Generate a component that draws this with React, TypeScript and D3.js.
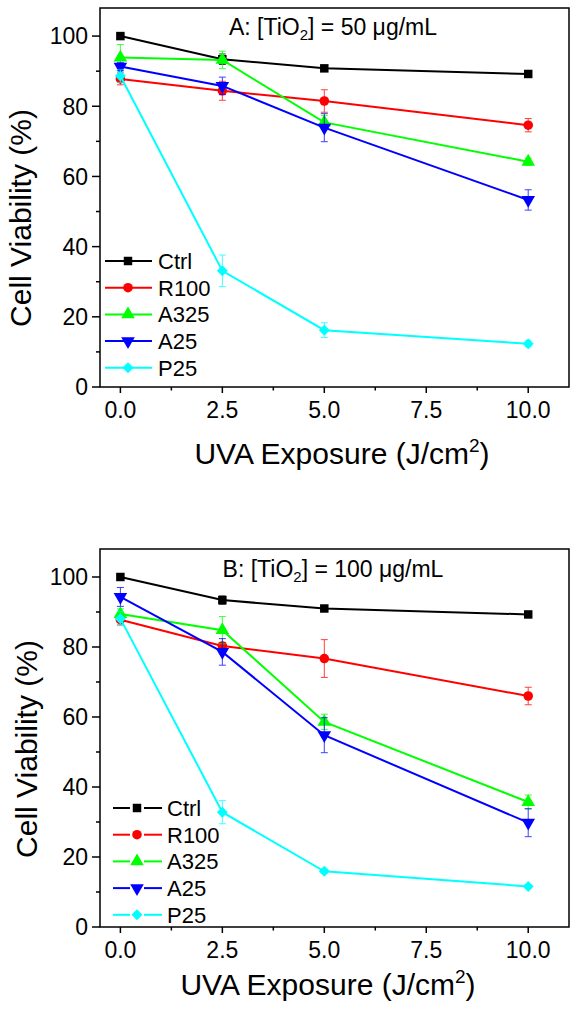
import React from "react";
import * as d3 from "d3";

// ---- data ----
const exposures = [0, 2.5, 5, 10];
const seriesNames = ["Ctrl", "R100", "A325", "A25", "P25"];
const seriesColors = ["#000000", "#ff0000", "#00ff00", "#0000ff", "#00ffff"];
const yTicks = [0, 20, 40, 60, 80, 100];
const yMinorTicks = [10, 30, 50, 70, 90];
const xTicks = [0, 2.5, 5, 7.5, 10];
const xMinorTicks = [1.25, 3.75, 6.25, 8.75];

// Panel A: [TiO2] = 50 ug/mL
const aCtrl = [100, 93.4, 90.8, 89.2];
const aCtrlErr = [0.5, 1.5, 0.5, 0.5];
const aR100 = [87.8, 84.4, 81.5, 74.6];
const aR100Err = [1.7, 2.7, 3.2, 1.9];
const aA325 = [93.9, 93.2, 75.4, 64.2];
const aA325Err = [3.7, 2.5, 2.0, 1.0];
const aA25 = [91.3, 85.8, 73.9, 53.3];
const aA25Err = [1.2, 2.5, 4.0, 2.9];
const aP25 = [88.6, 33.1, 16.2, 12.3];
const aP25Err = [1.8, 4.5, 2.1, 0.8];

// Panel B: [TiO2] = 100 ug/mL
const bCtrl = [100, 93.4, 91.0, 89.3];
const bCtrlErr = [0.5, 1.2, 0.5, 0.5];
const bR100 = [87.8, 80.3, 76.7, 66.0];
const bR100Err = [1.5, 1.0, 5.4, 2.5];
const bA325 = [89.4, 84.8, 58.6, 35.7];
const bA325Err = [1.5, 3.9, 2.2, 2.0];
const bA25 = [94.3, 78.6, 54.8, 29.8];
const bA25Err = [2.7, 3.8, 5.0, 4.0];
const bP25 = [88.1, 32.8, 15.9, 11.6];
const bP25Err = [2.0, 3.3, 0.6, 0.5];

const FONT = "Arial, 'Liberation Sans', Helvetica, sans-serif";

const panels = [
  {
    label: "A",
    conc: "50",
    top: 8,
    bottom: 387,
    values: [aCtrl, aR100, aA325, aA25, aP25],
    errors: [aCtrlErr, aR100Err, aA325Err, aA25Err, aP25Err],
    titleX: 333,
    titleY: 35,
    yTitleX: 31,
    yTitleY: 218,
    xTitleX: 342,
    xTitleY: 464,
    legendStyle: "solid",
    legendLine: [105, 152],
    legendMarker: 128,
    legendText: 158,
    legendTop: 261,
  },
  {
    label: "B",
    conc: "100",
    top: 549,
    bottom: 927,
    values: [bCtrl, bR100, bA325, bA25, bP25],
    errors: [bCtrlErr, bR100Err, bA325Err, bA25Err, bP25Err],
    titleX: 333,
    titleY: 577,
    yTitleX: 37,
    yTitleY: 749,
    xTitleX: 328,
    xTitleY: 995,
    legendStyle: "gap",
    legendLine: [113, 162],
    legendMarker: 137,
    legendText: 167,
    legendTop: 808,
  },
];

function markerPath(i: number): { d: string; rot: number } {
  const sq = d3.symbol().type(d3.symbolSquare);
  if (i === 0) return { d: sq.size(72)() as string, rot: 0 };
  if (i === 1) return { d: d3.symbol().type(d3.symbolCircle).size(72)() as string, rot: 0 };
  if (i === 2) return { d: d3.symbol().type(d3.symbolTriangle).size(80)() as string, rot: 0 };
  if (i === 3) return { d: d3.symbol().type(d3.symbolTriangle).size(80)() as string, rot: 180 };
  return { d: sq.size(60)() as string, rot: 45 };
}

function Marker({ i, cx, cy, color }: { i: number; cx: number; cy: number; color: string }) {
  const m = markerPath(i);
  return (
    <path
      d={m.d}
      transform={`translate(${cx},${cy}) rotate(${m.rot})`}
      fill={color}
      stroke="none"
    />
  );
}

function Panel({ p }: { p: any }) {
  const x = d3.scaleLinear().domain([-0.5, 11]).range([100, 569]);
  const y = d3.scaleLinear().domain([0, 108]).range([p.bottom, p.top]);
  const line = d3
    .line<number>()
    .x((_, k) => x(exposures[k]))
    .y((v) => y(v));
  const legendGap = 26.7;

  return (
    <g>
      {p.values.map((vals: number[], i: number) => {
        const color = seriesColors[i];
        const errs = p.errors[i];
        return (
          <g key={seriesNames[i]}>
            {vals.map((v, k) => {
              const cx = x(exposures[k]);
              const y1 = y(v - errs[k]);
              const y2 = y(v + errs[k]);
              return (
                <g key={k} stroke={color} strokeWidth={1} opacity={0.75}>
                  <line x1={cx} x2={cx} y1={y1} y2={y2} />
                  <line x1={cx - 3.5} x2={cx + 3.5} y1={y1} y2={y1} />
                  <line x1={cx - 3.5} x2={cx + 3.5} y1={y2} y2={y2} />
                </g>
              );
            })}
            <path d={line(vals) as string} fill="none" stroke={color} strokeWidth={2} />
            {vals.map((v, k) => (
              <Marker key={k} i={i} cx={x(exposures[k])} cy={y(v)} color={color} />
            ))}
          </g>
        );
      })}

      <rect
        x={x(-0.5)}
        y={p.top}
        width={x(11) - x(-0.5)}
        height={p.bottom - p.top}
        fill="none"
        stroke="#000"
        strokeWidth={1.5}
      />

      {yTicks.map((t) => (
        <g key={"y" + t}>
          <line x1={92} x2={100} y1={y(t)} y2={y(t)} stroke="#000" strokeWidth={1.5} />
          <text
            x={88}
            y={y(t)}
            dy="0.36em"
            textAnchor="end"
            fontSize={23}
            fontFamily={FONT}
            fill="#000"
          >
            {t}
          </text>
        </g>
      ))}
      {yMinorTicks.map((t) => (
        <line key={"ym" + t} x1={96} x2={100} y1={y(t)} y2={y(t)} stroke="#000" strokeWidth={1.5} />
      ))}

      {xTicks.map((t) => (
        <g key={"x" + t}>
          <line x1={x(t)} x2={x(t)} y1={p.bottom} y2={p.bottom + 6} stroke="#000" strokeWidth={1.5} />
          <text
            x={x(t)}
            y={p.bottom + 31}
            textAnchor="middle"
            fontSize={23}
            fontFamily={FONT}
            fill="#000"
          >
            {t.toFixed(1)}
          </text>
        </g>
      ))}
      {xMinorTicks.map((t) => (
        <line key={"xm" + t} x1={x(t)} x2={x(t)} y1={p.bottom} y2={p.bottom + 3.5} stroke="#000" strokeWidth={1.5} />
      ))}

      <text x={p.titleX} y={p.titleY} textAnchor="middle" fontSize={23} fontFamily={FONT} fill="#000">
        {p.label}: [TiO
        <tspan dy={5} fontSize={15}>2</tspan>
        <tspan dy={-5}>] = {p.conc} μg/mL</tspan>
      </text>

      <text
        transform={`translate(${p.yTitleX},${p.yTitleY}) rotate(-90)`}
        textAnchor="middle"
        fontSize={30}
        fontFamily={FONT}
        fill="#000"
      >
        Cell Viability (%)
      </text>
      <text x={p.xTitleX} y={p.xTitleY} textAnchor="middle" fontSize={30} fontFamily={FONT} fill="#000">
        UVA Exposure (J/cm
        <tspan dy={-12} fontSize={19}>2</tspan>
        <tspan dy={12}>)</tspan>
      </text>

      {seriesNames.map((name, i) => {
        const ly = p.legendTop + i * legendGap;
        const color = seriesColors[i];
        const [l0, l1] = p.legendLine;
        return (
          <g key={"lg" + name}>
            {p.legendStyle === "solid" ? (
              <line x1={l0} x2={l1} y1={ly} y2={ly} stroke={color} strokeWidth={2} />
            ) : (
              <g stroke={color} strokeWidth={2}>
                <line x1={l0} x2={p.legendMarker - 7} y1={ly} y2={ly} />
                <line x1={p.legendMarker + 7} x2={l1} y1={ly} y2={ly} />
              </g>
            )}
            <Marker i={i} cx={p.legendMarker} cy={ly} color={color} />
            <text x={p.legendText} y={ly} dy="0.36em" fontSize={22} fontFamily={FONT} fill="#000">
              {name}
            </text>
          </g>
        );
      })}
    </g>
  );
}

export default function App() {
  return (
    <svg
      width={579}
      height={1011}
      style={{ position: "absolute", left: 0, top: 0, background: "#fff" }}
    >
      <rect x={0} y={0} width={579} height={1011} fill="#fff" />
      {panels.map((p) => (
        <Panel key={p.label} p={p} />
      ))}
    </svg>
  );
}
